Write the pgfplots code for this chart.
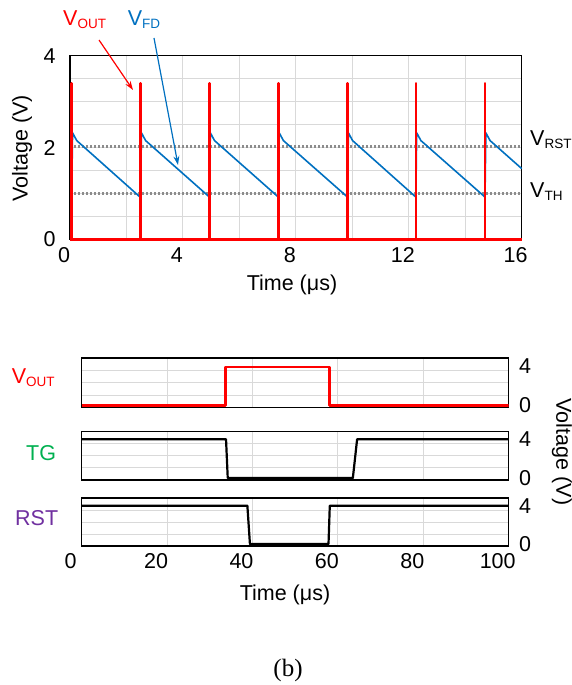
\documentclass[border=0pt]{standalone}
\usepackage{pgfplots}
\pgfplotsset{compat=1.18}
\usepackage{fontspec}
\setmainfont{Liberation Sans}
\newfontfamily\seriffont{Liberation Serif}
\usetikzlibrary{arrows.meta}
\definecolor{vout}{RGB}{255,0,0}
\definecolor{vfd}{RGB}{0,112,192}
\definecolor{gridc}{RGB}{217,217,217}
\definecolor{tgc}{RGB}{0,176,80}
\definecolor{rstc}{RGB}{112,48,160}
\newcommand{\sub}[1]{\raisebox{-3pt}{\fontsize{13.5}{13.5}\selectfont #1}}
\newcommand{\lbl}{\fontsize{21.5}{25}\selectfont}

\pgfplotsset{
  panel/.style={
    scale only axis,
    /pgf/number format/assume math mode=true,
    tick label style={font=\lbl},
    major tick length=0pt, minor tick length=0pt,
    grid=both,
    grid style={gridc,line width=0.9pt},
    minor grid style={gridc,line width=0.9pt},
    axis line style={black,line width=1.2pt},
  },
  wave/.style={
    panel, anchor=south west, width=427pt, height=48.5pt,
    xmin=0, xmax=100, ymin=-0.2, ymax=4.8,
    xtick={0,20,...,100}, xticklabels={},
    ytick={0,4}, yticklabel pos=right,
    yticklabel style={xshift=7pt},
    minor ytick={1.05,2.3,3.55},
    ymajorgrids=false, xmajorgrids=true,
  },
}

\begin{document}
\begin{tikzpicture}[x=1pt,y=1pt]
\useasboundingbox (0pt,0pt) rectangle (572pt,-685pt);

% (a) transient
\begin{axis}[panel,
  at={(70pt,-239.3pt)}, anchor=south west, width=451.7pt, height=183.6pt,
  xmin=0, xmax=16, ymin=0, ymax=4,
  xtick={0,4,...,16}, ytick={0,2,4},
  minor xtick={2,6,10,14}, minor ytick={0.5,1,...,3.5},
  xticklabel style={xshift=-6pt,yshift=-5pt},
  yticklabel style={xshift=-11pt},
  clip=false,
]
\addplot[gray!90,line width=2.2pt,dash pattern=on 2pt off 2pt] coordinates {(0,2.02) (16,2.02)};
\addplot[gray!90,line width=2.2pt,dash pattern=on 2pt off 2pt] coordinates {(0,1.0) (16,1.0)};
\addplot[vfd,line width=1.6pt,line join=round] coordinates {
  (0,0.92) (0.06,0.92)
  (0.09,2.32) (0.24,2.15) (2.50,0.91)
  (2.53,2.32) (2.68,2.15) (4.94,0.92)
  (4.97,2.32) (5.12,2.15) (7.38,0.92)
  (7.41,2.32) (7.56,2.15) (9.83,0.92)
  (9.86,2.32) (10.01,2.15) (12.25,0.92)
  (12.28,2.32) (12.43,2.15) (14.70,0.92)
  (14.73,2.32) (14.88,2.15) (16,1.54)};
\addplot[vout,line width=2.4pt,line join=round] coordinates {
  (0,0) (0.06,0) (0.06,3.4) (0.06,0)
  (2.50,0) (2.50,3.4) (2.50,0)
  (4.94,0) (4.94,3.4) (4.94,0)
  (7.38,0) (7.38,3.4) (7.38,0)
  (9.83,0) (9.83,3.4) (9.83,0)
  (12.25,0) (12.25,3.4) (12.25,0)
  (14.70,0) (14.70,3.4) (14.70,0) (16,0)};
\end{axis}

\node[rotate=90,font=\lbl] at (22pt,-148pt) {Voltage (V)};
\node[font=\lbl] at (292pt,-285pt) {Time (μs)};
\node[anchor=base west,font=\lbl,text=vout,inner sep=0] at (63pt,-26pt) {V\sub{OUT}};
\node[anchor=base west,font=\lbl,text=vfd,inner sep=0] at (127.7pt,-26pt) {V\sub{FD}};
\draw[vout,line width=1.2pt,-{Stealth[length=9pt,width=6pt]}] (99pt,-40pt) -- (133pt,-90pt);
\draw[vfd,line width=1.2pt,-{Stealth[length=9pt,width=6pt]}] (154pt,-38pt) -- (178pt,-165pt);
\node[anchor=base west,font=\lbl,inner sep=0] at (530pt,-145.7pt) {V\sub{RST}};
\node[anchor=base west,font=\lbl,inner sep=0] at (530pt,-197.7pt) {V\sub{TH}};

% (b) timing
\begin{axis}[wave, at={(81.7pt,-407.5pt)}, height=49.5pt]
\addplot[vout,line width=2.4pt,line join=round] coordinates {
  (0,0) (33.7,0) (33.7,3.9) (58.0,3.9) (58.0,0) (100,0)};
\end{axis}
\begin{axis}[wave, at={(81.7pt,-480pt)}]
\addplot[black,line width=2.2pt,line join=round] coordinates {
  (0,4) (33.8,4) (34.2,0) (63.5,0) (64.5,4) (100,4)};
\end{axis}
\begin{axis}[wave, at={(81.7pt,-546pt)}, height=48pt,
  xticklabels={0,20,40,60,80,100}, xticklabel style={xshift=-11pt,yshift=-4pt}]
\addplot[black,line width=2.2pt,line join=round] coordinates {
  (0,4) (38.8,4) (39.4,0) (57.8,0) (58.1,4) (100,4)};
\end{axis}

\node[anchor=base west,font=\lbl,text=vout,inner sep=0] at (11.7pt,-383.3pt) {V\sub{OUT}};
\node[anchor=base west,font=\lbl,text=tgc,inner sep=0] at (26pt,-460.7pt) {TG};
\node[anchor=base west,font=\lbl,text=rstc,inner sep=0] at (15pt,-525pt) {RST};
\node[rotate=-90,font=\lbl] at (562pt,-452pt) {Voltage (V)};
\node[font=\lbl] at (285pt,-595pt) {Time (μs)};
\node[font=\seriffont\fontsize{25}{28}\selectfont] at (288pt,-670pt) {(b)};
\end{tikzpicture}
\end{document}
